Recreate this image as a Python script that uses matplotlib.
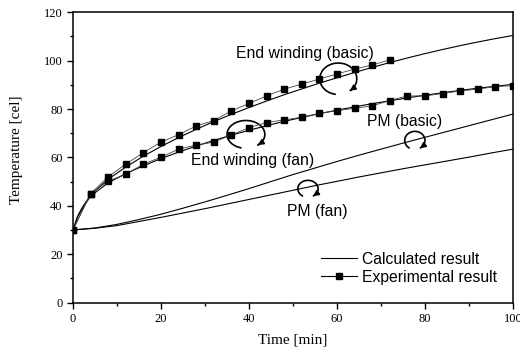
import matplotlib
matplotlib.use("Agg")
import matplotlib.pyplot as plt
import numpy as np
from matplotlib.patches import Arc
from matplotlib.lines import Line2D

# ---------------- data ----------------
t_exp_basic = [0, 4, 8, 12, 16, 20, 24, 28, 32, 36, 40, 44, 48, 52, 56, 60, 64, 68, 72]
T_exp_basic = [30, 45, 52, 57.2, 62.0, 66.3, 69.4, 73.0, 75.2, 79.2, 82.3, 85.4, 88.2, 90.3, 92.4, 94.5, 96.5, 98.2, 100.3]

t_exp_fan = [0, 4, 8, 12, 16, 20, 24, 28, 32, 36, 40, 44, 48, 52, 56, 60, 64, 68, 72, 76, 80, 84, 88, 92, 96, 100]
T_exp_fan = [30, 45, 50.2, 53.0, 57.2, 60.1, 63.4, 65.1, 66.3, 69.3, 72.3, 74.4, 75.5, 76.6, 78.2, 79.3, 80.3, 81.3, 83.5, 85.4, 85.4, 86.4, 87.5, 88.2, 89.3, 89.6]

t_calc_ew = [0, 1, 2, 4, 8, 12, 16, 20, 24, 28, 32, 36, 40, 44, 48, 52, 56, 60, 64, 68, 72, 76, 80, 84, 88, 92, 96, 100]
T_calc_ew_basic = [30, 35.5, 39, 44.5, 51, 56, 60.5, 64.5, 68.2, 71.6, 74.8, 77.8, 80.6, 83.3, 85.9, 88.3, 90.7, 92.9, 95.1, 97.2, 99.2, 101.1, 102.9, 104.6, 106.2, 107.7, 109.1, 110.4]
T_calc_ew_fan = [30, 35.2, 38.5, 44, 49.5, 53.3, 56.5, 59.5, 62.2, 64.7, 67.0, 69.2, 71.2, 73.1, 74.9, 76.5, 78.1, 79.5, 80.9, 82.2, 83.4, 84.6, 85.7, 86.7, 87.7, 88.6, 89.4, 90.2]

t_calc_pm = [0, 5, 10, 15, 20, 25, 30, 35, 40, 45, 50, 55, 60, 65, 70, 75, 80, 85, 90, 95, 100]
T_calc_pm_basic = [30, 30.8, 32.3, 34.3, 36.5, 39.0, 41.6, 44.3, 47.1, 50.0, 52.9, 55.6, 58.3, 60.9, 63.4, 65.9, 68.3, 70.7, 73.1, 75.5, 77.9]
T_calc_pm_fan = [30, 30.7, 31.8, 33.5, 35.2, 37.0, 38.8, 40.7, 42.6, 44.5, 46.4, 48.3, 50.1, 51.9, 53.6, 55.3, 56.9, 58.5, 60.1, 61.8, 63.4]

labels = ["End winding (basic)", "End winding (fan)", "PM (basic)", "PM (fan)"]
legend_labels = ["Calculated result", "Experimental result"]

# ---------------- figure ----------------
fig = plt.figure(figsize=(5.2, 3.5), dpi=100)
ax = fig.add_axes([0.1404, 0.1357, 0.9865 - 0.1404, 0.965 - 0.1357])

sans = "Liberation Sans"
serif = "Liberation Serif"

calc_kw = dict(color="black", lw=0.8)
exp_kw = dict(color="#444444", lw=0.6, marker="s", ms=5, mfc="black", mec="black")

ax.plot(t_calc_ew, T_calc_ew_basic, **calc_kw)
ax.plot(t_calc_ew, T_calc_ew_fan, **calc_kw)
ax.plot(t_calc_pm, T_calc_pm_basic, **calc_kw)
ax.plot(t_calc_pm, T_calc_pm_fan, **calc_kw)
ax.plot(t_exp_basic, T_exp_basic, **exp_kw)
ax.plot(t_exp_fan, T_exp_fan, **exp_kw)

ax.set_xlim(0, 100)
ax.set_ylim(0, 120)
ax.set_xticks(np.arange(0, 101, 20))
ax.set_yticks(np.arange(0, 121, 20))
ax.set_xticks(np.arange(10, 100, 20), minor=True)
ax.set_yticks(np.arange(10, 120, 20), minor=True)
ax.tick_params(which="both", direction="out", top=False, right=False)
ax.tick_params(which="major", length=4, width=1)
ax.tick_params(which="minor", length=2.5, width=1)
for lab in ax.get_xticklabels() + ax.get_yticklabels():
    lab.set_fontfamily(serif)
    lab.set_fontsize(9)
for s in ax.spines.values():
    s.set_linewidth(1.1)

ax.set_xlabel("Time [min]", fontfamily=serif, fontsize=11, labelpad=6)
ax.set_ylabel("Temperature [cel]", fontfamily=serif, fontsize=11, labelpad=10)
ax.yaxis.set_label_coords(-0.113, 0.525)

# annotations
fs = 11.3
ax.text(52.8, 103.1, labels[0], ha="center", va="center", fontfamily=sans, fontsize=fs)
ax.text(40.7, 58.9, labels[1], ha="center", va="center", fontfamily=sans, fontsize=fs)
ax.text(75.3, 75.0, labels[2], ha="center", va="center", fontfamily=sans, fontsize=fs)
ax.text(55.4, 37.8, labels[3], ha="center", va="center", fontfamily=sans, fontsize=fs)


def curl(cx, cy, w, h, theta_start, theta_end, arrow_len_deg=20):
    arc = Arc((cx, cy), w, h, theta1=theta_end, theta2=theta_start, color="black", lw=1.2)
    ax.add_patch(arc)
    a0 = np.deg2rad(theta_end + arrow_len_deg)
    a1 = np.deg2rad(theta_end)
    x0 = cx + w / 2 * np.cos(a0)
    y0 = cy + h / 2 * np.sin(a0)
    x1 = cx + w / 2 * np.cos(a1)
    y1 = cy + h / 2 * np.sin(a1)
    ax.annotate("", xy=(x1, y1), xytext=(x0, y0),
                arrowprops=dict(arrowstyle="-|>", color="black", lw=1.2, mutation_scale=8))


curl(60.3, 92.5, 8.4, 13.0, 265, -60)
curl(39.3, 69.5, 8.6, 11.5, 260, -60)
curl(77.7, 67.0, 4.6, 7.5, 250, -60)
curl(53.4, 47.0, 4.6, 7.0, 250, -60)

# legend
handles = [Line2D([], [], color="black", lw=0.8),
           Line2D([], [], color="black", lw=0.8, marker="s", ms=5)]
ax.legend(handles, legend_labels, loc="lower left", frameon=False,
          prop=dict(family=sans, size=fs), handlelength=2.3, handletextpad=0.3,
          labelspacing=0.2, bbox_to_anchor=(0.532, 0.012))

fig.savefig("out.png", dpi=100)
